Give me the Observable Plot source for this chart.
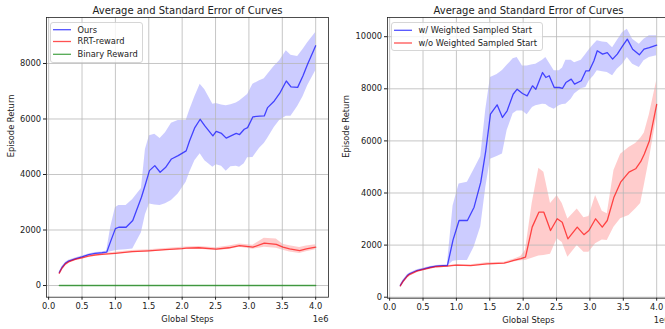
<!DOCTYPE html>
<html><head><meta charset="utf-8">
<script src="https://cdn.jsdelivr.net/npm/d3@7"></script>
<script src="https://cdn.jsdelivr.net/npm/@observablehq/plot@0.6"></script>
<style>
html,body{margin:0;padding:0;background:#fff;}
body{width:665px;height:329px;overflow:hidden;position:relative;font-family:"DejaVu Sans",sans-serif;}
.panel{position:absolute;top:0;}
.legend{position:absolute;top:0;left:0;}
</style></head><body>
<div id="left" class="panel" style="left:0;width:335px;height:329px"></div>
<div id="right" class="panel" style="left:335px;width:340px;height:329px"></div>
<svg class="legend" width="665" height="329" style="pointer-events:none"></svg>
<script>
// ---------- shared ----------
const title = "Average and Standard Error of Curves";
const xLabel = "Global Steps";
const yLabel = "Episode Return";
const xTicks = [0, 0.5, 1.0, 1.5, 2.0, 2.5, 3.0, 3.5, 4.0]; // x in units of 1e6 steps
const xOffsetLabel = "1e6";

// ---------- left panel ----------
const leftYTicks = [0, 2000, 4000, 6000, 8000];
const leftLegend = ["Ours", "RRT-reward", "Binary Reward"];

const oursX    = [0.16,0.2,0.25,0.3,0.4,0.5,0.6,0.7,0.8,0.87,0.93,1.0,1.05,1.16,1.26,1.39,1.45,1.51,1.59,1.67,1.75,1.84,1.94,2.06,2.11,2.19,2.27,2.34,2.46,2.51,2.59,2.66,2.73,2.81,2.86,2.93,2.98,3.06,3.16,3.23,3.28,3.38,3.46,3.56,3.63,3.73,3.81,3.88,4.0];
const oursMean = [470,650,800,880,960,1030,1110,1160,1180,1200,1600,2050,2100,2100,2340,3180,3650,4140,4320,4080,4250,4560,4680,4850,5210,5690,5990,5750,5390,5550,5480,5310,5390,5480,5440,5630,5690,6080,6100,6110,6410,6650,6920,7370,7160,7140,7560,7980,8640];
const oursHi   = [500,680,830,910,990,1060,1140,1190,1210,1240,2100,2800,2880,2880,3100,3500,4900,5400,5450,5300,5500,5850,5950,5950,6300,6800,7250,7050,6530,6560,6500,6480,6510,6580,6650,6780,6880,7250,7380,7450,7600,7900,8100,8460,8300,8250,8500,8750,9120];
const oursLo   = [440,620,770,850,930,1000,1080,1130,1150,1170,1220,1250,1270,1290,1320,1900,2550,2940,2900,2880,2950,3060,3300,3720,4050,4500,4750,4500,4260,4350,4300,4120,4280,4300,4260,4390,4600,4610,4950,5120,5300,5690,5950,6100,6100,6450,6800,7200,7740];

const rrtX    = [0.16,0.2,0.25,0.3,0.4,0.5,0.6,0.7,0.8,1.0,1.25,1.5,1.75,2.0,2.06,2.25,2.51,2.7,2.86,3.06,3.23,3.41,3.51,3.61,3.76,3.86,4.0];
const rrtMean = [440,620,770,850,940,1000,1060,1100,1120,1160,1220,1250,1290,1330,1345,1360,1310,1360,1440,1380,1525,1480,1380,1320,1260,1320,1380];
const rrtHi   = [470,650,800,880,970,1030,1090,1130,1150,1195,1260,1290,1330,1375,1390,1410,1360,1420,1500,1450,1700,1680,1490,1430,1370,1420,1470];
const rrtLo   = [410,590,740,820,910,970,1030,1070,1090,1125,1180,1210,1250,1285,1300,1310,1260,1300,1380,1310,1380,1340,1270,1210,1150,1220,1290];

const binX    = [0.16,1.0,2.0,3.0,4.0];
const binMean = [0,0,0,0,0];

// ---------- right panel ----------
const rightYTicks = [0, 2000, 4000, 6000, 8000, 10000];
const rightLegend = ["w/ Weighted Sampled Start", "w/o Weighted Sampled Start"];

const wX    = [0.16,0.2,0.265,0.3,0.41,0.5,0.61,0.7,0.8,0.865,0.95,1.04,1.165,1.265,1.365,1.44,1.51,1.61,1.69,1.76,1.85,1.91,1.99,2.06,2.14,2.19,2.29,2.34,2.39,2.465,2.54,2.59,2.64,2.72,2.77,2.87,2.94,2.99,3.06,3.11,3.19,3.26,3.34,3.41,3.49,3.56,3.64,3.74,3.81,3.89,4.0];
const wMean = [450,620,830,900,1025,1080,1150,1190,1210,1215,2200,2945,2945,3455,4415,5620,7025,7385,6900,7155,7790,7985,7820,7730,8115,7980,8625,8435,8500,8050,8050,8020,8240,8370,8180,8310,8690,8690,9075,9460,9330,9390,9140,9330,9650,9905,9520,9305,9520,9580,9675];
const wHi   = [480,650,860,930,1055,1110,1180,1220,1240,1250,3500,4350,4415,4900,5400,7200,8435,8550,8700,8900,9150,9200,8880,8880,8920,8945,9100,9200,9000,8690,8690,8800,9100,9100,9000,9100,9330,9500,9710,9840,9800,9775,9580,9850,10160,10290,9905,9710,9900,10035,10035];
const wLo   = [420,590,800,870,995,1050,1120,1160,1180,1185,1380,1410,1410,1920,2700,4200,5300,5400,5500,6400,7040,7150,7150,7000,7280,7350,7410,7400,7300,7215,7345,7400,7410,7600,7800,8000,8050,8300,8500,8690,8650,8625,8500,8750,8945,9200,8945,8820,9075,9200,9265];

const woX    = [0.16,0.2,0.265,0.3,0.41,0.5,0.61,0.7,0.865,1.0,1.215,1.46,1.715,1.86,1.965,2.035,2.135,2.235,2.31,2.41,2.51,2.585,2.67,2.81,2.91,2.985,3.085,3.185,3.26,3.36,3.46,3.585,3.685,3.76,3.815,3.89,4.0];
const woMean = [430,600,800,870,1000,1060,1130,1170,1190,1230,1215,1280,1305,1410,1480,1535,2690,3265,3265,2560,3010,2880,2240,2690,2400,2560,3010,2690,2945,3840,4415,4800,4930,5200,5500,6000,7400];
const woHi   = [460,630,830,900,1030,1090,1160,1200,1220,1260,1250,1320,1345,1460,1560,1800,3600,4950,4800,3600,3905,3600,3000,3390,3050,3100,3905,3300,3200,4865,5490,5745,5900,6100,6300,7000,8310];
const woLo   = [400,570,770,840,970,1030,1100,1140,1160,1200,1180,1240,1265,1350,1400,1410,1500,1580,1600,1650,2240,2100,1535,1985,1730,1730,2050,2200,2180,2690,3010,3135,3390,3600,4300,5300,6900];

// ---------- helpers ----------
const rows = (x, m, lo, hi) => x.map((v, i) => ({x: v, m: m[i], lo: lo ? lo[i] : null, hi: hi ? hi[i] : null}));
const BLUE = "blue", RED = "red", GREEN = "green";
const LINE_OP = 0.68, FILL_OP = 0.2, LW = 1.3;
const TXT = "#222";

function panel({width, ml, mr, mb, ydomain, yticks, series, ylabelDx}) {
  const marks = [];
  for (const s of series) if (s.lo) marks.push(Plot.areaY(rows(s.x, s.m, s.lo, s.hi), {x: "x", y1: "lo", y2: "hi", fill: s.color, fillOpacity: FILL_OP, curve: "linear"}));
  marks.push(Plot.gridX(xTicks, {stroke: "#b8b8b8", strokeOpacity: 0.8, strokeWidth: 1}));
  marks.push(Plot.gridY(yticks, {stroke: "#b8b8b8", strokeOpacity: 0.8, strokeWidth: 1}));
  for (const s of series) marks.push(Plot.lineY(rows(s.x, s.m), {x: "x", y: "m", stroke: s.color, strokeOpacity: LINE_OP, strokeWidth: LW, curve: "linear"}));
  marks.push(Plot.frame({stroke: TXT, strokeWidth: 0.8}));
  marks.push(Plot.axisX(xTicks, {tickSize: 3, tickPadding: 2.5, tickFormat: d => d.toFixed(1), fontSize: 8.3, label: null, stroke: TXT, fill: TXT}));
  marks.push(Plot.axisY(yticks, {tickSize: 3, tickPadding: 2.5, tickFormat: d => String(d), fontSize: 8.3, label: null, stroke: TXT, fill: TXT}));
  marks.push(Plot.text([title], {frameAnchor: "top", dy: -7, fontSize: 10, lineAnchor: "middle", fill: TXT}));
  marks.push(Plot.text([xLabel], {frameAnchor: "bottom", dy: 22, fontSize: 8.3, lineAnchor: "middle", fill: TXT}));
  marks.push(Plot.text([xOffsetLabel], {frameAnchor: "bottom-right", dy: 22, fontSize: 8.3, textAnchor: "end", lineAnchor: "middle", fill: TXT}));
  marks.push(Plot.text([yLabel], {frameAnchor: "left", dx: ylabelDx, rotate: -90, fontSize: 8.3, lineAnchor: "middle", fill: TXT}));
  return Plot.plot({
    width, height: 329,
    marginLeft: ml, marginRight: mr, marginTop: 17, marginBottom: mb,
    x: {domain: [-0.032, 4.192], axis: null},
    y: {domain: ydomain, axis: null},
    style: {fontFamily: "DejaVu Sans", background: "white", maxWidth: "none", overflow: "visible"},
    marks
  });
}

document.getElementById("left").append(panel({
  width: 335, ml: 46, mr: 7, mb: 32.3, ydomain: [-421, 9657], yticks: leftYTicks, ylabelDx: -35,
  series: [
    {x: oursX, m: oursMean, lo: oursLo, hi: oursHi, color: BLUE},
    {x: rrtX, m: rrtMean, lo: rrtLo, hi: rrtHi, color: RED},
    {x: binX, m: binMean, color: GREEN}
  ]
}));
document.getElementById("right").append(panel({
  width: 340, ml: 52, mr: 6, mb: 31.3, ydomain: [-38, 10737], yticks: rightYTicks, ylabelDx: -41,
  series: [
    {x: wX, m: wMean, lo: wLo, hi: wHi, color: BLUE},
    {x: woX, m: woMean, lo: woLo, hi: woHi, color: RED}
  ]
}));

// ---------- legends ----------
const svg = d3.select("svg.legend");
function legend(x0, y0, w, h, labels, colors, rowY) {
  const g = svg.append("g");
  g.append("rect").attr("x", x0 + 0.5).attr("y", y0 + 0.5).attr("width", w).attr("height", h)
    .attr("rx", 2.5).attr("fill", "white").attr("fill-opacity", 0.8).attr("stroke", "#cccccc").attr("stroke-width", 0.8);
  labels.forEach((lab, i) => {
    const y = y0 + rowY[i];
    g.append("line").attr("x1", x0 + 3).attr("x2", x0 + 21).attr("y1", y).attr("y2", y)
      .attr("stroke", colors[i]).attr("stroke-opacity", LINE_OP).attr("stroke-width", LW);
    g.append("text").attr("x", x0 + 27.5).attr("y", y).attr("dy", "0.35em")
      .attr("font-family", "DejaVu Sans").attr("font-size", 8.3).attr("fill", TXT).text(lab);
  });
}
legend(50, 22, 92, 40, leftLegend, [BLUE, RED, GREEN], [7.7, 19.5, 32.3]);
legend(391, 22, 151, 28, rightLegend, [BLUE, RED], [8.3, 21]);
</script>
</body></html>
